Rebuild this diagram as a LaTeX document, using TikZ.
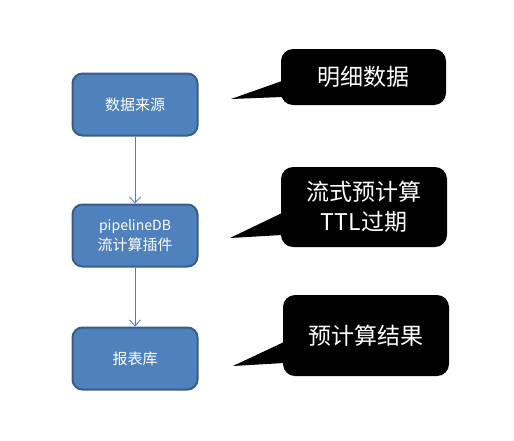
\documentclass[tikz,border=0pt]{standalone}
\usepackage{fontspec}
\setmainfont{Noto Sans CJK SC}
\usetikzlibrary{arrows.meta}
\definecolor{boxfill}{HTML}{4F81BD}
\definecolor{boxline}{HTML}{385D8A}
\definecolor{arrowc}{HTML}{4A7EBB}
\begin{document}
\begin{tikzpicture}[x=1pt,y=-1pt,
  flowbox/.style={draw=boxline,line width=2pt,fill=boxfill,rounded corners=10pt,
    minimum width=125pt,minimum height=62pt,text=white,font=\fontsize{15}{20}\selectfont,align=center,inner sep=0pt},
  callout/.style={fill=black,rounded corners=12pt,text=white,font=\fontsize{23}{30}\selectfont,align=center,inner sep=0pt},
  flowarrow/.style={draw=arrowc,line width=0.8pt,-{Straight Barb[length=6pt,width=11pt]}}]
\useasboundingbox (0,0) rectangle (514,440);
\node[flowbox] (src) at (135,104.5) {数据来源};
\node[flowbox] (plug) at (135,235.5) {{\fontsize{14}{20}\selectfont pipelineDB}\\流计算插件};
\node[flowbox] (rep) at (135,358.5) {报表库};
\draw[flowarrow] (src) -- (plug);
\draw[flowarrow] (plug) -- (rep);
% callouts
\node[callout,minimum width=165pt,minimum height=56pt] (c1) at (363.5,77) {明细数据};
\coordinate (t1) at (231,99);
\fill (t1) -- (282,81) -- (282,97) -- cycle;
\node[callout,minimum width=166pt,minimum height=80pt] (c2) at (364,207) {流式预计算\\TTL过期};
\coordinate (t2) at (230,238);
\fill (t2) -- (282,213) -- (282,235) -- cycle;
\node[callout,minimum width=166pt,minimum height=81pt] (c3) at (366,335.5) {预计算结果};
\coordinate (t3) at (233,366);
\fill (t3) -- (284,342) -- (284,363) -- cycle;
\end{tikzpicture}
\end{document}
